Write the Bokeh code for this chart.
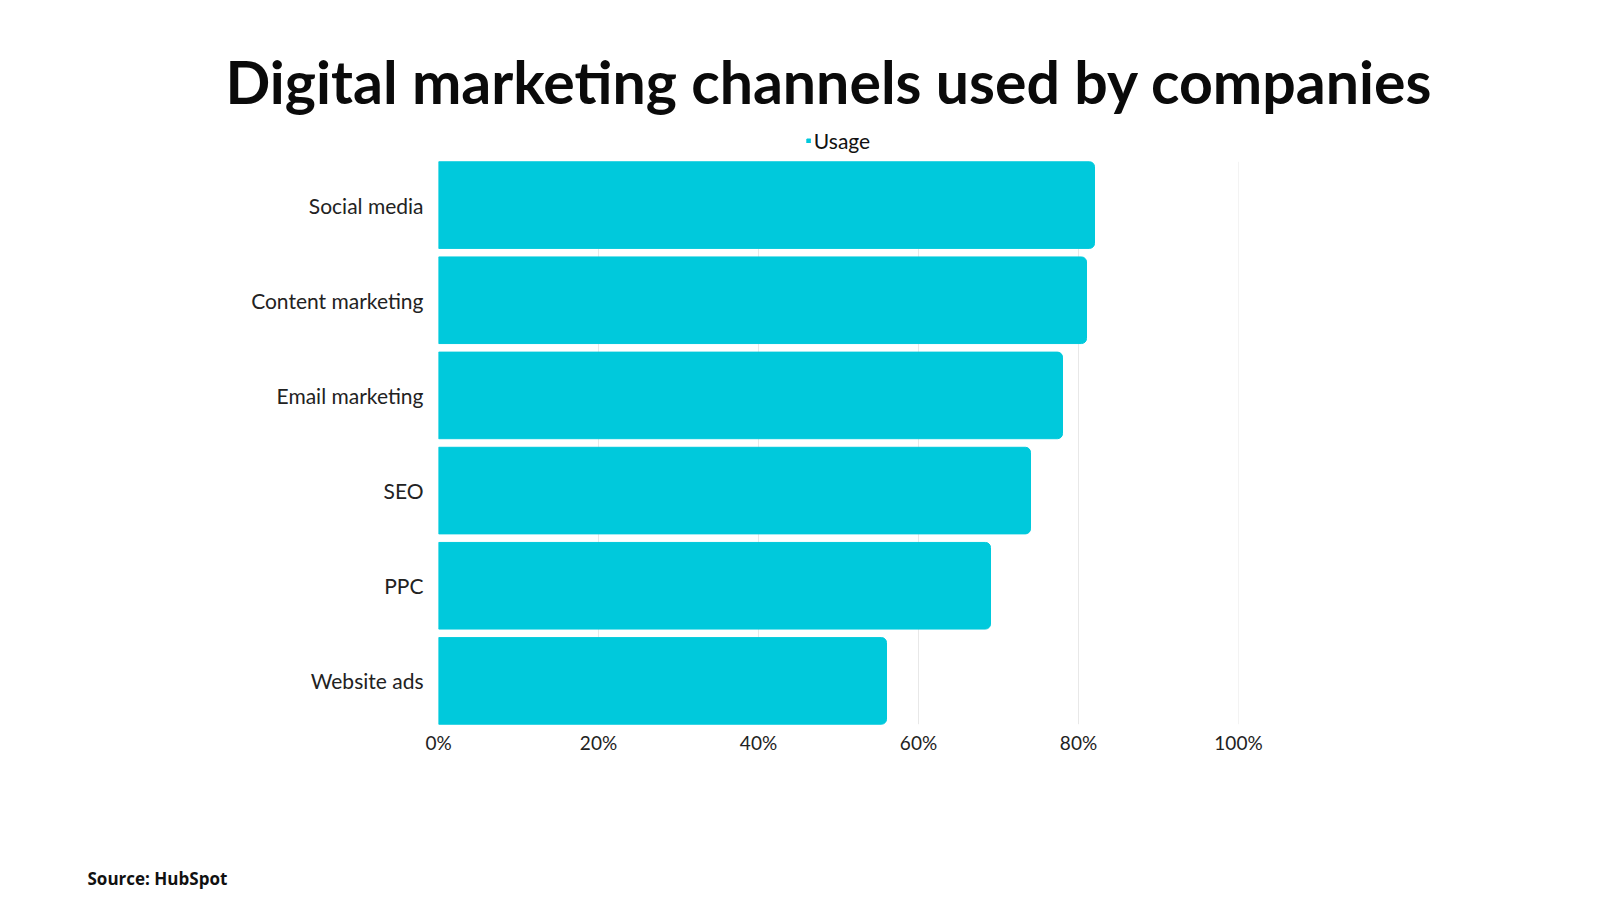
from bokeh.plotting import figure
from bokeh.models import Legend, LegendItem, Range1d, FixedTicker, Title
from bokeh.embed import file_html
from bokeh.resources import INLINE

# data
categories = ["Social media", "Content marketing", "Email marketing", "SEO", "PPC", "Website ads"]
usage = [82, 81, 78, 74, 69, 56]
x_ticks = [0, 20, 40, 60, 80, 100]
title_text = "Digital marketing channels used by companies"
source_text = "Source: HubSpot"
series_name = "Usage"

BAR = "#00C9DC"
FONT = "Lato"
BAR_H = 0.91

# layout (pixels)
W, H = 1584, 891
FRAME_TOP, FRAME_BOTTOM, BAND_TOP = 120, 728, 157
n = len(categories)
y_end = n * (FRAME_BOTTOM - FRAME_TOP) / (FRAME_BOTTOM - BAND_TOP)

# band centres: first category on top
y_pos = [n - 0.5 - i for i in range(n)]

p = figure(width=W, height=H, output_backend="svg", toolbar_location=None,
           x_range=Range1d(0, 100), y_range=Range1d(0, y_end),
           min_border_left=438, min_border_right=346, min_border_top=FRAME_TOP,
           min_border_bottom=0)
p.outline_line_color = None
p.background_fill_color = "white"
p.border_fill_color = "white"
p.grid.visible = False

# vertical grid lines limited to the bar area
grid_ticks = [t for t in x_ticks if t > 0]
p.segment(x0=grid_ticks, x1=grid_ticks, y0=min(y_pos) - BAR_H / 2, y1=max(y_pos) + BAR_H / 2,
          line_color="#e8e8e8", line_width=1)

r = p.hbar(y=y_pos, left=0, right=usage, height=BAR_H, color=BAR,
           border_radius=(0, 5, 5, 0))

p.xaxis.ticker = FixedTicker(ticks=x_ticks)
p.xaxis.major_label_overrides = {t: f"{t}%" for t in x_ticks}
p.yaxis.ticker = FixedTicker(ticks=y_pos)
p.yaxis.major_label_overrides = {y: c for y, c in zip(y_pos, categories)}
for ax in (p.xaxis[0], p.yaxis[0]):
    ax.axis_line_color = None
    ax.major_tick_line_color = None
    ax.minor_tick_line_color = None
    ax.major_tick_out = 0
    ax.major_tick_in = 0
    ax.major_label_text_font = FONT
    ax.major_label_text_color = "#222222"
p.xaxis.major_label_text_font_size = "19px"
p.yaxis.major_label_text_font_size = "21px"
p.xaxis.major_label_standoff = 2
p.yaxis.major_label_standoff = 15

legend = Legend(items=[LegendItem(label=series_name, renderers=[r])],
                location="top_center", orientation="horizontal",
                glyph_width=5, glyph_height=5, label_standoff=3,
                label_text_font=FONT, label_text_font_size="21px", label_text_color="#111111",
                label_height=20, padding=0, margin=8, spacing=0,
                border_line_color=None, background_fill_alpha=0)
p.add_layout(legend)

p.add_layout(Title(text=title_text, align="left", offset=-213, vertical_align="bottom",
                   standoff=8, text_font=FONT, text_font_style="bold",
                   text_font_size="59px", text_color="#0a0a0a"), "above")

# spacer between the x axis and the source line
p.add_layout(Title(text=" ", text_font_size="1px", standoff=107), "below")
p.add_layout(Title(text=source_text, align="left", offset=-351, vertical_align="top",
                   standoff=0, text_font="Open Sans", text_font_style="bold",
                   text_font_size="17px", text_color="#111111"), "below")

open("out.html", "w").write(file_html(p, INLINE))
